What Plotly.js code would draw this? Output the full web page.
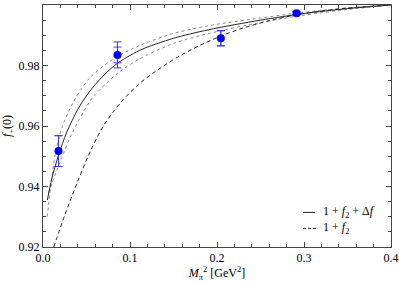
<!DOCTYPE html>
<html><head><meta charset="utf-8">
<script src="https://cdn.plot.ly/plotly-3.0.1.min.js"></script>
<style>body{margin:0;background:#fff;}#chart{width:399px;height:284px;}</style>
</head><body><div id="chart"></div>
<script>
// Central fit 1 + f2 + Δf
const fitX = [0.005, 0.010, 0.018, 0.0274, 0.041, 0.0573, 0.0822, 0.111, 0.15, 0.19, 0.25, 0.30, 0.35, 0.40];
const fitY = [0.9355, 0.9425, 0.9505, 0.958, 0.966, 0.9728, 0.980, 0.985, 0.989, 0.9918, 0.995, 0.9972, 0.9988, 1.0];
// Error band (dotted)
const upX = [0.0048, 0.010, 0.014, 0.0209, 0.034, 0.0534, 0.0822, 0.111, 0.149, 0.191, 0.25, 0.297, 0.35, 0.40];
const upY = [0.930, 0.9425, 0.9505, 0.9587, 0.9675, 0.9758, 0.9824, 0.9866, 0.9905, 0.9932, 0.9957, 0.9975, 0.9990, 1.0];
const loX = [0.006, 0.0236, 0.0324, 0.0534, 0.065, 0.086, 0.111, 0.15, 0.191, 0.26, 0.30, 0.35, 0.40];
const loY = [0.9378, 0.951, 0.957, 0.968, 0.9719, 0.9775, 0.9822, 0.9873, 0.9906, 0.9948, 0.9966, 0.9985, 1.0];
// 1 + f2 (dashed)
const f2X = [0.0124, 0.025, 0.04, 0.055, 0.07, 0.09, 0.11, 0.13, 0.155, 0.18, 0.205, 0.23, 0.26, 0.29, 0.32, 0.35, 0.40];
const f2Y = [0.9200, 0.9305, 0.9418, 0.9520, 0.9603, 0.9680, 0.9738, 0.9782, 0.9828, 0.9866, 0.9898, 0.9924, 0.9948, 0.9967, 0.9980, 0.9990, 1.0];
// Lattice data points
const ptX = [0.0178, 0.0856, 0.2044, 0.2914];
const ptY = [0.9517, 0.9835, 0.989, 0.99725];
const ptErr = [0.0051, 0.0026, 0.0025, 0.0005];
const ptErrTot = [0.0051, 0.0043, 0.0025, 0.0005];

const legendLabels = ['1 + <i>f</i><sub>2</sub> + Δ<i>f</i>', '1 + <i>f</i><sub>2</sub>'];

const serif = '"Liberation Serif", "DejaVu Serif", serif';
const traces = [
  {x: upX, y: upY, mode: 'lines', line: {color: '#8a8a8a', width: 1, dash: 'dot', shape: 'spline', smoothing: 0.8}, showlegend: false, hoverinfo: 'skip'},
  {x: loX, y: loY, mode: 'lines', line: {color: '#8a8a8a', width: 1, dash: 'dot', shape: 'spline', smoothing: 0.8}, showlegend: false, hoverinfo: 'skip'},
  {x: f2X, y: f2Y, mode: 'lines', name: legendLabels[1], line: {color: '#222', width: 1, dash: '4px,3px', shape: 'spline', smoothing: 0.8}, showlegend: false},
  {x: fitX, y: fitY, mode: 'lines', name: legendLabels[0], line: {color: '#222', width: 1, shape: 'spline', smoothing: 0.8}, showlegend: false},
  {x: ptX, y: ptY, mode: 'markers', marker: {size: 0.1, color: 'rgba(0,0,0,0)'}, error_y: {type: 'data', array: ptErrTot, color: '#3a3aff', thickness: 1, width: 4}, showlegend: false},
  {x: ptX, y: ptY, mode: 'markers', marker: {size: 8, color: '#0000ff'}, error_y: {type: 'data', array: ptErr, color: '#3a3aff', thickness: 1, width: 4}, showlegend: false}
];

const axCommon = {
  showgrid: false, zeroline: false, showline: true, linecolor: '#444', linewidth: 1,
  mirror: 'allticks', ticks: 'inside', ticklen: 5, tickcolor: '#444', tickwidth: 1,
  tickfont: {family: serif, size: 12, color: '#000'}
};

const layout = {
  width: 399, height: 284,
  margin: {l: 43, r: 8, t: 5, b: 37},
  paper_bgcolor: '#fff', plot_bgcolor: '#fff',
  font: {family: serif, size: 12, color: '#000'},
  showlegend: false,
  xaxis: Object.assign({}, axCommon, {
    range: [0, 0.4], dtick: 0.1, tick0: 0, tickformat: '.1f',
    minor: {dtick: 0.02, ticks: 'inside', ticklen: 3, tickcolor: '#444'},
    title: {text: '<i>M</i><sub>π</sub><sup>2</sup> [GeV<sup>2</sup>]', font: {family: serif, size: 12, color: '#000'}, standoff: 4}
  }),
  yaxis: Object.assign({}, axCommon, {
    range: [0.92, 1.0], dtick: 0.02, tick0: 0.92, tickformat: '.2f',
    minor: {dtick: 0.005, ticks: 'inside', ticklen: 3, tickcolor: '#444'},
    title: {text: '<i>f</i><sub>+</sub>(0)', font: {family: serif, size: 12, color: '#000'}, standoff: 6}
  }),
  shapes: [
    {type: 'line', xref: 'paper', yref: 'paper', x0: 0.747, x1: 0.782, y0: 0.143, y1: 0.143, line: {color: '#222', width: 1}},
    {type: 'line', xref: 'paper', yref: 'paper', x0: 0.747, x1: 0.785, y0: 0.077, y1: 0.077, line: {color: '#222', width: 1, dash: '3px,2px'}}
  ],
  annotations: [
    {xref: 'paper', yref: 'paper', x: 0.8, y: 0.143, xanchor: 'left', yanchor: 'middle', showarrow: false, text: legendLabels[0], font: {family: serif, size: 12, color: '#000'}},
    {xref: 'paper', yref: 'paper', x: 0.8, y: 0.077, xanchor: 'left', yanchor: 'middle', showarrow: false, text: legendLabels[1], font: {family: serif, size: 12, color: '#000'}}
  ]
};

Plotly.newPlot('chart', traces, layout, {displayModeBar: false, staticPlot: true});
</script>
</body></html>
